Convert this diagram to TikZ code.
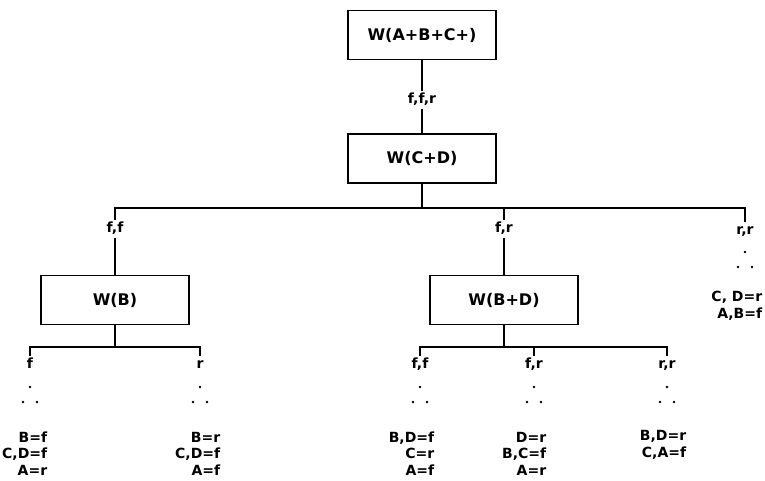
\documentclass[tikz,border=0pt]{standalone}
\usepackage{fontspec}
\setmainfont{DejaVu Sans}
\begin{document}
\begin{tikzpicture}[x=1pt,y=-1pt,
  line width=1.6pt,
  wbox/.style={draw,minimum width=148pt,minimum height=49pt,inner sep=0pt,
    font=\fontsize{16}{18}\selectfont\bfseries},
  lbl/.style={inner sep=2pt,text height=10pt,text depth=2.5pt,
    font=\fontsize{14}{16}\selectfont\bfseries},
  res/.style={align=right,inner sep=0pt,font=\fontsize{14}{16.5}\selectfont\bfseries},
  dot/.style={circle,fill,draw=none,inner sep=0pt,minimum size=2.6pt}]
\useasboundingbox (0,0) rectangle (765,481);

% root, its outcome and the second test
\node[wbox] (abc) at (422,35) {W(A+B+C+)};
\node[lbl] (ffr) at (422,100) {f,f,r};
\node[wbox] (cd) at (422,158.5) {W(C+D)};
\draw (abc) -- (ffr);
\draw (ffr) -- (cd);

% three outcomes of W(C+D)
\coordinate (cdj) at (422,208);
\coordinate (cdL) at (115,208);
\coordinate (cdM) at (504,208);
\coordinate (cdR) at (745,208);
\node[lbl] (ff) at (115,229) {f,f};
\node[lbl] (fr) at (504,229) {f,r};
\node[lbl] (rr) at (745,231) {r,r};
\draw (cd.south) -- (cdj);
\draw (ff.north) -- (cdL) -- (cdR) -- (rr.north);
\draw (cdM) -- (fr.north);

% third-level tests
\node[wbox] (wb) at (115,300) {W(B)};
\node[wbox] (wbd) at (504,300) {W(B+D)};
\draw (ff.south) -- (wb.north);
\draw (fr.south) -- (wbd.north);

% outcomes of W(B)
\coordinate (bj) at (115,347);
\coordinate (bL) at (30,347);
\coordinate (bR) at (200,347);
\node[lbl] (bf) at (30,365) {f};
\node[lbl] (br) at (200,365) {r};
\draw (wb.south) -- (bj);
\draw (bf.north) -- (bL) -- (bR) -- (br.north);

% outcomes of W(B+D)
\coordinate (dj) at (504,347);
\coordinate (dL) at (420,347);
\coordinate (dM) at (534,347);
\coordinate (dR) at (667,347);
\node[lbl] (dff) at (420,365) {f,f};
\node[lbl] (dfr) at (534,365) {f,r};
\node[lbl] (drr) at (667,365) {r,r};
\draw (wbd.south) -- (dj);
\draw (dff.north) -- (dL) -- (dR) -- (drr.north);
\draw (dM) -- (dfr.north);

% ellipsis dots under each open branch
\foreach \x/\y [count=\i] in {30/387,200/387,420/387,534/387,667/387,745/252}{
  \node[dot] (da\i) at (\x,\y) {};
  \node[dot] (db\i) at (\x-7,\y+15) {};
  \node[dot] (dc\i) at (\x+7,\y+15) {};
}

% final assignments
\node[res,anchor=east] (r1) at (48,453.5) {B=f\\C,D=f\\A=r};
\node[res,anchor=east] (r2) at (221,453.5) {B=r\\C,D=f\\A=f};
\node[res,anchor=east] (r3) at (435,453.5) {B,D=f\\C=r\\A=f};
\node[res,anchor=east] (r4) at (547,453.5) {D=r\\B,C=f\\A=r};
\node[res,anchor=east] (r5) at (687,445) {B,D=r\\C,A=f};
\node[res,anchor=east] (r6) at (763,306) {C, D=r\\A,B=f};
\end{tikzpicture}
\end{document}
